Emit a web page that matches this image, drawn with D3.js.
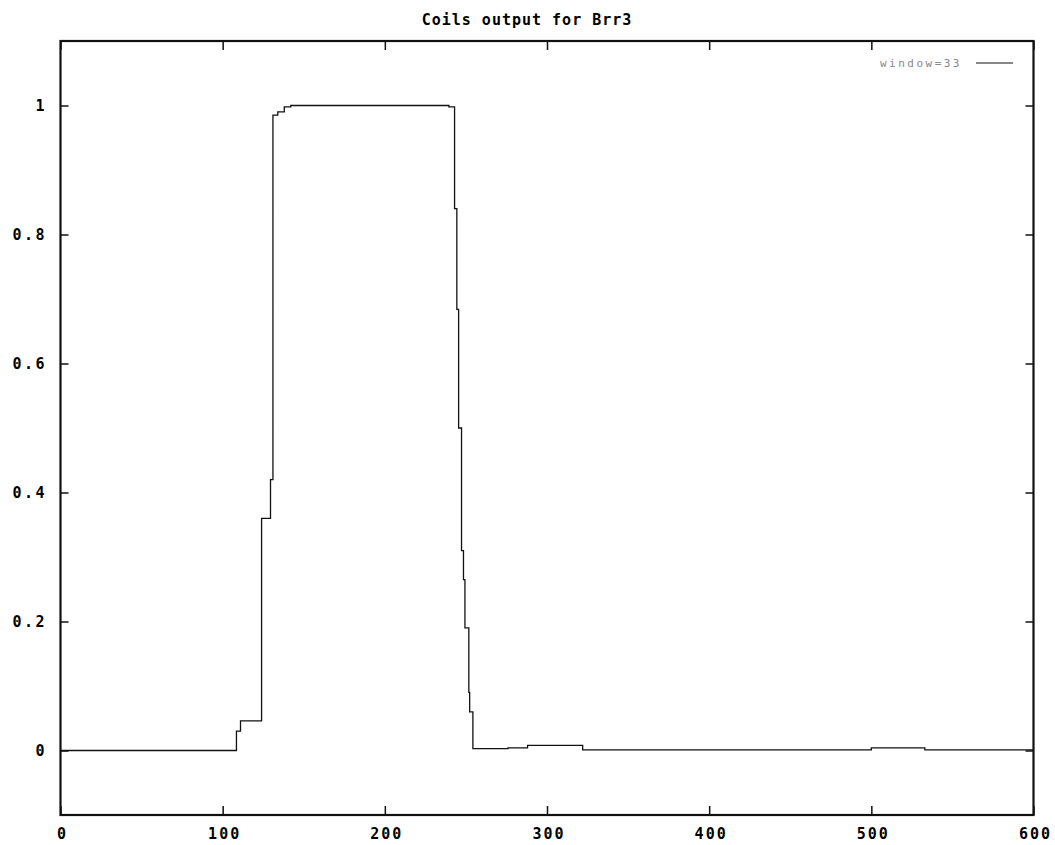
<!DOCTYPE html>
<html>
<head>
<meta charset="utf-8">
<script src="https://cdn.jsdelivr.net/npm/d3@7"></script>
<style>
  body { margin: 0; background: #fff; }
  svg text { font-family: "DejaVu Sans Mono", monospace; }
</style>
</head>
<body>
<div id="chart"></div>
<script>
// coil output (step function)
var xs = [0, 108.5, 111, 124, 129.5, 131, 134, 138, 142, 239.5, 243, 244.4, 245.5, 247.3, 248.5, 249.4, 251.8, 252.3, 254.3, 276, 288, 322, 500, 533, 600];
var ys = [0, 0.03, 0.046, 0.36, 0.42, 0.985, 0.99, 0.998, 1.0, 0.998, 0.84, 0.684, 0.5, 0.31, 0.265, 0.19, 0.09, 0.06, 0.003, 0.004, 0.008, 0.001, 0.004, 0.001, 0.001];
var xTicks = [0, 100, 200, 300, 400, 500, 600];
var yTicks = [0, 0.2, 0.4, 0.6, 0.8, 1];
var title = "Coils output for Brr3";
var legendLabel = "window=33";

var W = 1055, H = 845;
// plot frame (note: "top" is taken by window.top, so prefix these)
var plotL = 60.5, plotR = 1033.5, plotT = 41, plotB = 815;

var svg = d3.select("#chart").append("svg")
    .attr("width", W)
    .attr("height", H);

var x = d3.scaleLinear().domain([0, 600]).range([plotL, plotR]);
var y = d3.scaleLinear().domain([-0.1, 1.1]).range([plotB, plotT]);

var data = xs.map(function(d, i) { return { x: d, y: ys[i] }; });

// the trace
var line = d3.line()
    .x(function(d) { return x(d.x); })
    .y(function(d) { return y(d.y); })
    .curve(d3.curveStepAfter);

svg.append("path")
    .datum(data)
    .attr("d", line)
    .attr("fill", "none")
    .attr("stroke", "#111")
    .attr("stroke-width", 1.3);

// frame with inward ticks on all sides
var fmt = function(d) { return d3.format("~g")(d); };

svg.append("g")
    .attr("transform", "translate(0," + plotB + ")")
    .call(d3.axisTop(x).tickValues(xTicks).tickSize(9).tickFormat(""))
    .call(function(g) { g.select(".domain").remove(); });
svg.append("g")
    .attr("transform", "translate(0," + plotT + ")")
    .call(d3.axisBottom(x).tickValues(xTicks).tickSize(9).tickFormat(""))
    .call(function(g) { g.select(".domain").remove(); });
svg.append("g")
    .attr("transform", "translate(" + plotL + ",0)")
    .call(d3.axisRight(y).tickValues(yTicks).tickSize(8).tickFormat(""))
    .call(function(g) { g.select(".domain").remove(); });
svg.append("g")
    .attr("transform", "translate(" + plotR + ",0)")
    .call(d3.axisLeft(y).tickValues(yTicks).tickSize(8).tickFormat(""))
    .call(function(g) { g.select(".domain").remove(); });

svg.selectAll(".tick line")
    .attr("stroke", "#111")
    .attr("stroke-width", 1.5);

svg.append("rect")
    .attr("x", plotL)
    .attr("y", plotT)
    .attr("width", plotR - plotL)
    .attr("height", plotB - plotT)
    .attr("fill", "none")
    .attr("stroke", "#111")
    .attr("stroke-width", 2.2);

// tick labels
svg.selectAll(".xlab")
    .data(xTicks)
    .enter().append("text")
    .attr("x", function(d) { return x(d) + 2; })
    .attr("y", 839)
    .attr("text-anchor", "middle")
    .style("font-size", "15px")
    .style("font-weight", "bold")
    .style("letter-spacing", "2px")
    .text(fmt);

svg.selectAll(".ylab")
    .data(yTicks)
    .enter().append("text")
    .attr("x", 47)
    .attr("y", function(d) { return y(d) + 5; })
    .attr("text-anchor", "end")
    .style("font-size", "15px")
    .style("font-weight", "bold")
    .style("letter-spacing", "2.5px")
    .text(fmt);

// title
svg.append("text")
    .attr("x", 527)
    .attr("y", 25)
    .attr("text-anchor", "middle")
    .style("font-size", "15px")
    .style("font-weight", "bold")
    .style("letter-spacing", "1px")
    .text(title);

// legend
svg.append("text")
    .attr("x", 962)
    .attr("y", 67)
    .attr("text-anchor", "end")
    .style("font-size", "11px")
    .style("letter-spacing", "2.5px")
    .style("fill", "#888")
    .text(legendLabel);
svg.append("line")
    .attr("x1", 976).attr("x2", 1013)
    .attr("y1", 63).attr("y2", 63)
    .attr("stroke", "#111")
    .attr("stroke-width", 1.2);
</script>
</body>
</html>
